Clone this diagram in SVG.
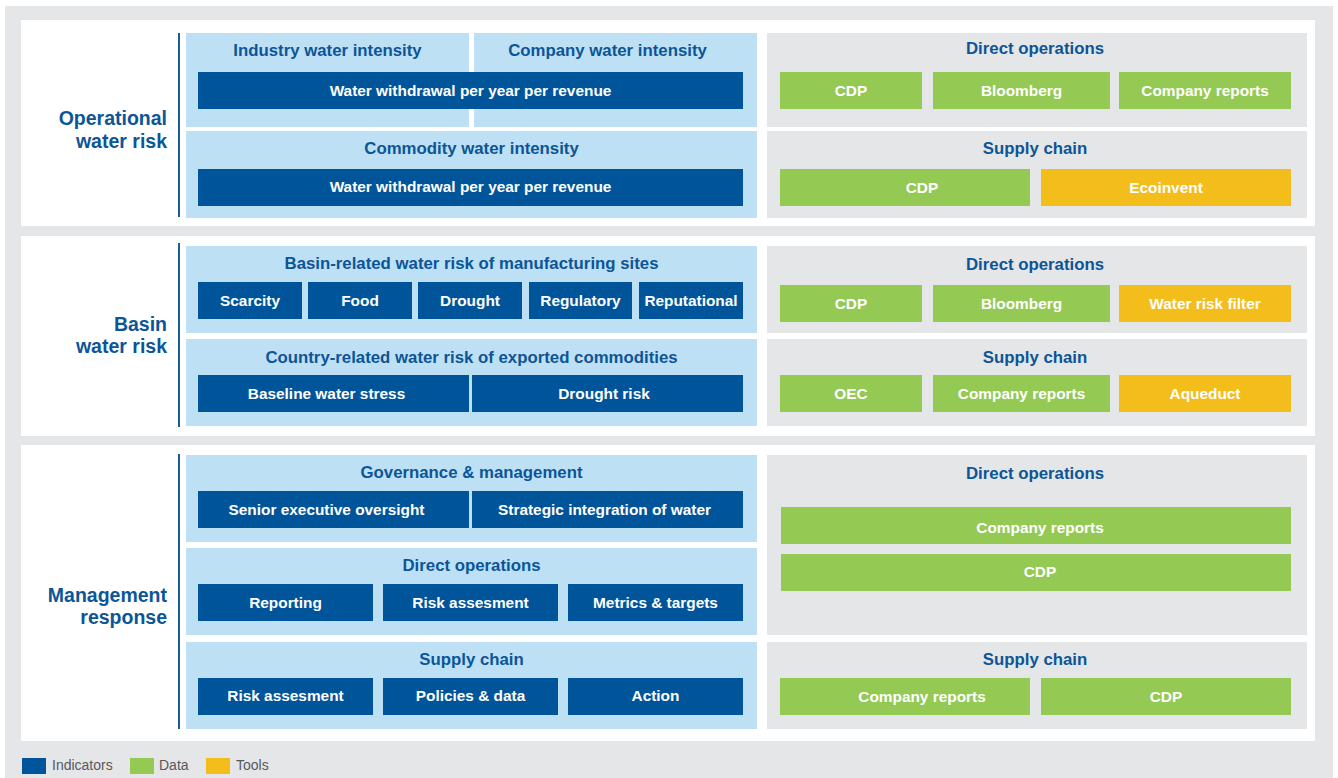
<svg xmlns="http://www.w3.org/2000/svg" width="1338" height="778" viewBox="0 0 1338 778">
  <style>
    text { font-family: "Liberation Sans", Arial, Helvetica, sans-serif; }
    .bg { fill: #e5e6e8; }
    .panel { fill: #ffffff; }
    .lb { fill: #bee0f5; }
    .gr { fill: #e5e6e8; }
    .ind { fill: #00559a; }
    .dat { fill: #94c954; }
    .tool { fill: #f3bd1b; }
    .rule { stroke: #1d5c94; stroke-width: 2; fill: none; }
    .sec { font-size: 19.5px; font-weight: bold; fill: #0c5597; text-anchor: end; }
    .hd { font-size: 16.8px; font-weight: bold; fill: #0c5597; text-anchor: middle; }
    .bx { font-size: 15.4px; font-weight: bold; fill: #ffffff; text-anchor: middle; }
    .lg { font-size: 14px; fill: #58595b; }
  </style>

  <!-- page background -->
  <rect class="bg" x="5" y="6" width="1328" height="772"/>

  <!-- ============ Operational water risk ============ -->
  <g id="operational">
    <rect class="panel" x="21" y="20" width="1294" height="206"/>
    <text class="sec" x="167" y="125">Operational</text>
    <text class="sec" x="167" y="148">water risk</text>
    <line class="rule" x1="179" y1="33" x2="179" y2="217"/>
  </g>
  <g id="op-company-intensity">
    <rect class="lb" x="186" y="33" width="283" height="94"/>
    <rect class="lb" x="474" y="33" width="283" height="94"/>
    <text class="hd" x="327.5" y="56">Industry water intensity</text>
    <text class="hd" x="607.5" y="56">Company water intensity</text>
    <rect class="ind" x="198" y="72" width="545" height="37"/>
    <text class="bx" x="470.5" y="95.5">Water withdrawal per year per revenue</text>
  </g>
  <g id="op-commodity-intensity">
    <rect class="lb" x="186" y="131" width="571" height="87"/>
    <text class="hd" x="471.5" y="154">Commodity water intensity</text>
    <rect class="ind" x="198" y="169" width="545" height="37"/>
    <text class="bx" x="470.5" y="192">Water withdrawal per year per revenue</text>
  </g>
  <g id="op-direct-data">
    <rect class="gr" x="767" y="33" width="540" height="94"/>
    <text class="hd" x="1035" y="54">Direct operations</text>
    <rect class="dat" x="780" y="72" width="142" height="37"/>
    <text class="bx" x="851" y="95.5">CDP</text>
    <rect class="dat" x="933" y="72" width="177" height="37"/>
    <text class="bx" x="1021.5" y="95.5">Bloomberg</text>
    <rect class="dat" x="1119" y="72" width="172" height="37"/>
    <text class="bx" x="1205" y="95.5">Company reports</text>
  </g>
  <g id="op-supply-data">
    <rect class="gr" x="767" y="131" width="540" height="87"/>
    <text class="hd" x="1035" y="154">Supply chain</text>
    <rect class="dat" x="780" y="169" width="250" height="37"/>
    <text class="bx" x="922" y="193">CDP</text>
    <rect class="tool" x="1041" y="169" width="250" height="37"/>
    <text class="bx" x="1166" y="193">Ecoinvent</text>
  </g>

  <!-- ============ Basin water risk ============ -->
  <g id="basin">
    <rect class="panel" x="21" y="236" width="1294" height="200"/>
    <text class="sec" x="167" y="331">Basin</text>
    <text class="sec" x="167" y="353">water risk</text>
    <line class="rule" x1="179" y1="243" x2="179" y2="427"/>
  </g>
  <g id="basin-sites">
    <rect class="lb" x="186" y="246" width="571" height="87"/>
    <text class="hd" x="471.5" y="269">Basin-related water risk of manufacturing sites</text>
    <rect class="ind" x="198" y="282" width="104" height="37"/>
    <text class="bx" x="250" y="305.5">Scarcity</text>
    <rect class="ind" x="308" y="282" width="104" height="37"/>
    <text class="bx" x="360" y="305.5">Food</text>
    <rect class="ind" x="418" y="282" width="104" height="37"/>
    <text class="bx" x="470" y="305.5">Drought</text>
    <rect class="ind" x="529" y="282" width="103" height="37"/>
    <text class="bx" x="580.5" y="305.5">Regulatory</text>
    <rect class="ind" x="639" y="282" width="104" height="37"/>
    <text class="bx" x="691" y="305.5">Reputational</text>
  </g>
  <g id="basin-commodities">
    <rect class="lb" x="186" y="339" width="571" height="87"/>
    <text class="hd" x="471.5" y="363">Country-related water risk of exported commodities</text>
    <rect class="ind" x="198" y="375" width="271" height="37"/>
    <text class="bx" x="326.5" y="399">Baseline water stress</text>
    <rect class="ind" x="472" y="375" width="271" height="37"/>
    <text class="bx" x="604" y="399">Drought risk</text>
  </g>
  <g id="basin-direct-data">
    <rect class="gr" x="767" y="246" width="540" height="87"/>
    <text class="hd" x="1035" y="270">Direct operations</text>
    <rect class="dat" x="780" y="285" width="142" height="37"/>
    <text class="bx" x="851" y="308.5">CDP</text>
    <rect class="dat" x="933" y="285" width="177" height="37"/>
    <text class="bx" x="1021.5" y="308.5">Bloomberg</text>
    <rect class="tool" x="1119" y="285" width="172" height="37"/>
    <text class="bx" x="1205" y="308.5">Water risk filter</text>
  </g>
  <g id="basin-supply-data">
    <rect class="gr" x="767" y="339" width="540" height="87"/>
    <text class="hd" x="1035" y="363">Supply chain</text>
    <rect class="dat" x="780" y="375" width="142" height="37"/>
    <text class="bx" x="851" y="398.5">OEC</text>
    <rect class="dat" x="933" y="375" width="177" height="37"/>
    <text class="bx" x="1021.5" y="398.5">Company reports</text>
    <rect class="tool" x="1119" y="375" width="172" height="37"/>
    <text class="bx" x="1205" y="398.5">Aqueduct</text>
  </g>

  <!-- ============ Management response ============ -->
  <g id="management">
    <rect class="panel" x="21" y="445" width="1294" height="296"/>
    <text class="sec" x="167" y="602">Management</text>
    <text class="sec" x="167" y="624">response</text>
    <line class="rule" x1="179" y1="454" x2="179" y2="729"/>
  </g>
  <g id="mgmt-governance">
    <rect class="lb" x="186" y="455" width="571" height="87"/>
    <text class="hd" x="471.5" y="478">Governance &amp; management</text>
    <rect class="ind" x="198" y="491" width="271" height="37"/>
    <text class="bx" x="326.5" y="514.5">Senior executive oversight</text>
    <rect class="ind" x="472" y="491" width="271" height="37"/>
    <text class="bx" x="604.5" y="514.5">Strategic integration of water</text>
  </g>
  <g id="mgmt-direct">
    <rect class="lb" x="186" y="548" width="571" height="87"/>
    <text class="hd" x="471.5" y="571">Direct operations</text>
    <rect class="ind" x="198" y="584" width="175" height="37"/>
    <text class="bx" x="285.5" y="607.5">Reporting</text>
    <rect class="ind" x="383" y="584" width="175" height="37"/>
    <text class="bx" x="470.5" y="607.5">Risk assesment</text>
    <rect class="ind" x="568" y="584" width="175" height="37"/>
    <text class="bx" x="655.5" y="607.5">Metrics &amp; targets</text>
  </g>
  <g id="mgmt-supply">
    <rect class="lb" x="186" y="642" width="571" height="87"/>
    <text class="hd" x="471.5" y="665">Supply chain</text>
    <rect class="ind" x="198" y="678" width="175" height="37"/>
    <text class="bx" x="285.5" y="701">Risk assesment</text>
    <rect class="ind" x="383" y="678" width="175" height="37"/>
    <text class="bx" x="470.5" y="701">Policies &amp; data</text>
    <rect class="ind" x="568" y="678" width="175" height="37"/>
    <text class="bx" x="655.5" y="701">Action</text>
  </g>
  <g id="mgmt-direct-data">
    <rect class="gr" x="767" y="455" width="540" height="180"/>
    <text class="hd" x="1035" y="479">Direct operations</text>
    <rect class="dat" x="781" y="507" width="510" height="37"/>
    <text class="bx" x="1040" y="533">Company reports</text>
    <rect class="dat" x="781" y="554" width="510" height="37"/>
    <text class="bx" x="1040" y="577">CDP</text>
  </g>
  <g id="mgmt-supply-data">
    <rect class="gr" x="767" y="642" width="540" height="87"/>
    <text class="hd" x="1035" y="665">Supply chain</text>
    <rect class="dat" x="780" y="678" width="250" height="37"/>
    <text class="bx" x="922" y="701.5">Company reports</text>
    <rect class="dat" x="1041" y="678" width="250" height="37"/>
    <text class="bx" x="1166" y="701.5">CDP</text>
  </g>

  <!-- legend -->
  <g id="legend">
    <rect class="ind" x="22" y="758" width="24" height="16"/>
    <text class="lg" x="52" y="770">Indicators</text>
    <rect class="dat" x="130" y="758" width="24" height="16"/>
    <text class="lg" x="159" y="770">Data</text>
    <rect class="tool" x="206" y="758" width="24" height="16"/>
    <text class="lg" x="236" y="770">Tools</text>
  </g>

  <!-- no connectors in this layout -->
  <g id="connectors"/>
</svg>
